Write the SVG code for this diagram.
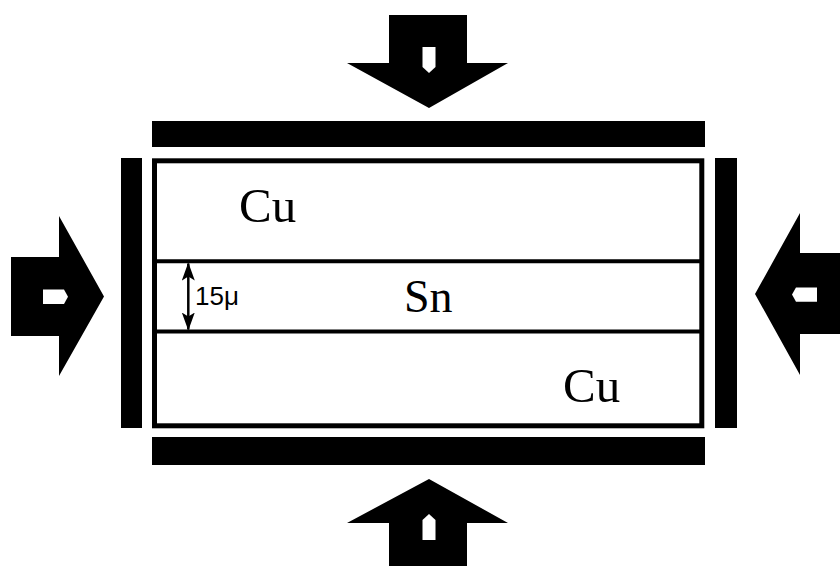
<svg xmlns="http://www.w3.org/2000/svg" width="840" height="566" viewBox="0 0 840 566">
<style>
.blk{fill:#000}
.hole{fill:#fff}
.lbl{font-family:"Liberation Serif",serif;fill:#000}
.dim{font-family:"Liberation Sans",sans-serif;fill:#000;font-size:26px}
.edge{fill:none;stroke:#000}
</style>
<defs>
<marker id="ah" viewBox="0 0 18 13" refX="17" refY="6.5" markerWidth="18" markerHeight="13" markerUnits="userSpaceOnUse" orient="auto-start-reverse">
<path d="M0,0 L18,6.5 L0,13 L4,6.5 Z" fill="#000"/>
</marker>
</defs>
<rect width="840" height="566" fill="#fff"/>
<g id="arrow-top">
<polygon class="blk" points="389,15 467,15 467,63 508,63 429,108 347,63 389,63"/>
<polygon class="hole" points="422.5,47 435.5,47 435.5,67 429,73 422.5,67"/>
</g>
<g id="arrow-bottom">
<polygon class="blk" points="389,566 467,566 467,523 508,523 429,479 347,523 389,523"/>
<polygon class="hole" points="422.5,540 435.5,540 435.5,520 429,514 422.5,520"/>
</g>
<g id="arrow-left">
<polygon class="blk" points="11,257 59,257 59,216 104,296.5 59,376 59,336 11,336"/>
<polygon class="hole" points="43,289.5 64,289.5 68,296.7 64,304 43,304"/>
</g>
<g id="arrow-right">
<polygon class="blk" points="840,253 800,253 800,213 755,294 800,375 800,334 840,334"/>
<polygon class="hole" points="817,287.5 796,287.5 792,294.5 796,301.7 817,301.7"/>
</g>
<g id="plate-top"><rect class="blk" x="152" y="121" width="553" height="26"/></g>
<g id="plate-bottom"><rect class="blk" x="152" y="437" width="553" height="28"/></g>
<g id="plate-left"><rect class="blk" x="121" y="158" width="21" height="270"/></g>
<g id="plate-right"><rect class="blk" x="715" y="158" width="22" height="270"/></g>
<g id="stack">
<rect class="edge" x="154.5" y="160.8" width="547.3" height="265" stroke-width="5"/>
<line class="edge" x1="157" y1="261.3" x2="700" y2="261.3" stroke-width="4"/>
<line class="edge" x1="157" y1="331.5" x2="700" y2="331.5" stroke-width="4"/>
</g>
<g id="layer-cu-top"><text class="lbl" x="239" y="222" font-size="49">Cu</text></g>
<g id="layer-sn"><text class="lbl" x="404" y="312" font-size="46">Sn</text></g>
<g id="layer-cu-bottom"><text class="lbl" x="563" y="402" font-size="49">Cu</text></g>
<g id="connectors">
<line class="edge" x1="188.3" y1="263.5" x2="188.3" y2="329.5" stroke-width="2.5" marker-start="url(#ah)" marker-end="url(#ah)"/>
</g>
<g id="dim-label"><text class="dim" x="195" y="305">15μ</text></g>
</svg>
